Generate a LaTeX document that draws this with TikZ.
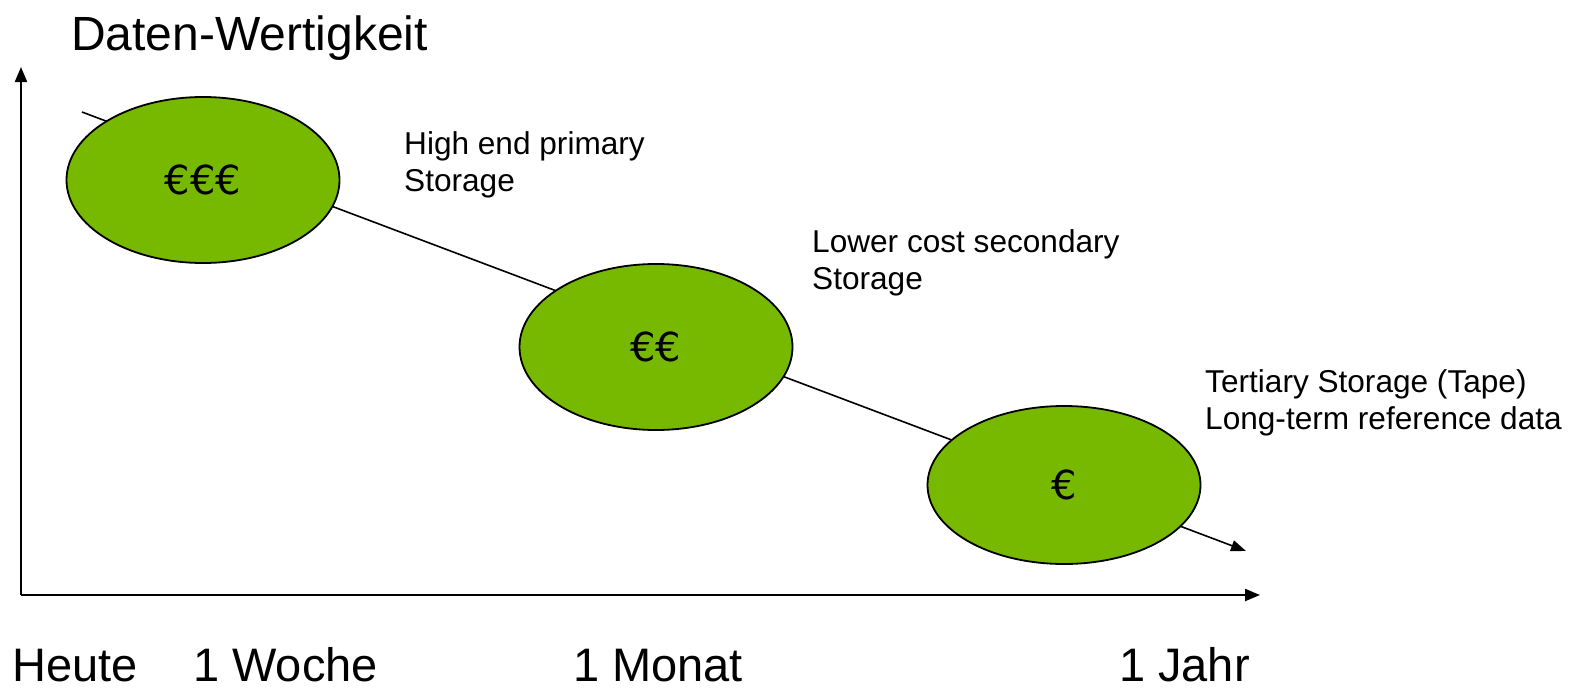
\documentclass[tikz,border=0pt]{standalone}
\usepackage{fontspec}
\setmainfont{Liberation Sans}
\newfontfamily\eurofont{DejaVu Sans}
\usetikzlibrary{arrows.meta,shapes.geometric}
\definecolor{tiergreen}{HTML}{76B900}
\definecolor{ink}{HTML}{000000}
\tikzset{
  axes/.style={-{Triangle[length=15pt,width=12pt]}, line width=2.2pt, draw=ink},
  trend/.style={-{Triangle[length=15pt,width=11pt]}, line width=1.6pt, draw=ink},
  tier/.style={ellipse, fill=tiergreen, draw=ink, line width=1.8pt, inner sep=0pt,
    minimum width=273pt, minimum height=166pt, font=\eurofont\fontsize{40}{48}\selectfont},
  big/.style={anchor=base west, inner sep=0pt, font=\fontsize{47}{56}\selectfont},
  lab/.style={anchor=north west, inner sep=0pt, align=left,
    font=\fontsize{31.6}{37}\selectfont}
}

\begin{document}
\begin{tikzpicture}[x=1pt,y=-1pt]
  \useasboundingbox (0,0) rectangle (1577,688);

  \coordinate (origin) at (21,595);
  \coordinate (ytip) at (21,67);
  \coordinate (xtip) at (1260,595);
  \coordinate (trendstart) at (82,112);
  \coordinate (trendend) at (1246,551);

  \draw[axes] (origin) -- (ytip);
  \draw[axes] (origin) -- (xtip);
  % falling value over time, behind the tiers
  \draw[trend] (trendstart) -- (trendend);

  \node[tier] (primary) at (203,180) {€€€};
  \node[tier] (secondary) at (656,347) {€€};
  \node[tier, minimum height=158pt] (tertiary) at (1064,485) {€};

  \node[big, font=\fontsize{48}{56}\selectfont] (value) at (71,50) {Daten-Wertigkeit};
  \node[lab] (primarylab) at (404,131) {High end primary\\Storage};
  \node[lab] (secondarylab) at (812,229) {Lower cost secondary\\Storage};
  \node[lab] (tertiarylab) at (1205,369) {Tertiary Storage (Tape)\\Long-term reference data};

  \node[big] (today) at (12,681) {Heute};
  \node[big] (week) at (193,681) {1 Woche};
  \node[big] (month) at (573,681) {1 Monat};
  \node[big] (year) at (1119,681) {1 Jahr};
\end{tikzpicture}
\end{document}
